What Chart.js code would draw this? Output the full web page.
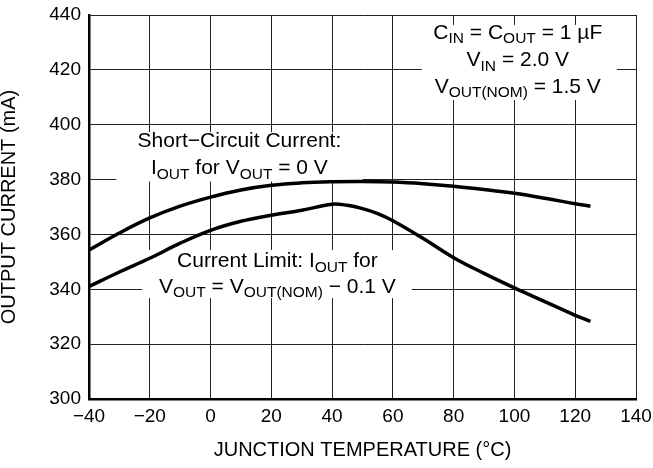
<!DOCTYPE html>
<html>
<head>
<meta charset="utf-8">
<script src="https://cdn.jsdelivr.net/npm/chart.js@4.4.1/dist/chart.umd.min.js"></script>
<style>
  html, body { margin: 0; padding: 0; background: #fff; }
</style>
</head>
<body>
<canvas id="chart" width="653" height="468"></canvas>
<script>
// data
const scTemps = [-40, -30, -20, -10, 0, 10, 20, 30, 40, 50, 60, 70, 80, 90, 100, 110, 120, 125];
const shortCircuit = [354.3, 360.5, 366, 370.3, 373.6, 376.2, 377.9, 378.8, 379.2, 379.3, 379.1, 378.5, 377.6, 376.4, 375, 373.2, 371.2, 370.3];

const limTemps = [-40, -30, -20, -10, 0, 10, 20, 30, 40, 45, 50, 55, 60, 70, 80, 90, 100, 110, 120, 125];
const currentLimit = [341, 346.3, 351.3, 356.8, 361.5, 364.8, 367, 368.8, 371, 370.6, 369.4, 367.6, 365, 358.5, 351.5, 345.8, 340.5, 335.5, 330.5, 328.3];

const xTicks = [-40, -20, 0, 20, 40, 60, 80, 100, 120, 140];
const yTicks = [300, 320, 340, 360, 380, 400, 420, 440];

const xTitle = "JUNCTION TEMPERATURE (\u00B0C)";
const yTitle = "OUTPUT CURRENT (mA)";

// annotation text, [text, isSubscript]
const notes = [
  {
    box: [-31, 397.3, 50, 379.3], cx: 9.5,
    lines: [
      { y: 391.9, parts: [["Short\u2212Circuit Current:"]] },
      { y: 382.0, parts: [["I"], ["OUT", 1], [" for V"], ["OUT", 1], [" = 0 V"]] }
    ]
  },
  {
    box: [69.5, 436.4, 133.7, 409], cx: 101.1,
    lines: [
      { y: 431.3, parts: [["C"], ["IN", 1], [" = C"], ["OUT", 1], [" = 1 \u00B5F"]] },
      { y: 421.4, parts: [["V"], ["IN", 1], [" = 2.0 V"]] },
      { y: 411.6, parts: [["V"], ["OUT(NOM)", 1], [" = 1.5 V"]] }
    ]
  },
  {
    box: [-22.5, 354.3, 66.2, 336.8], cx: 22,
    lines: [
      { y: 348.1, parts: [["Current Limit: I"], ["OUT", 1], [" for"]] },
      { y: 338.7, parts: [["V"], ["OUT", 1], [" = V"], ["OUT(NOM)", 1], [" \u2212 0.1 V"]] }
    ]
  }
];

const FONT = "'Liberation Sans', Arial, Helvetica, sans-serif";

const notePlugin = {
  id: "notes",
  beforeDatasetsDraw(chart) {
    const ctx = chart.ctx;
    const xs = chart.scales.x, ys = chart.scales.y;
    ctx.save();
    notes.forEach(n => {
      const x1 = xs.getPixelForValue(n.box[0]), y1 = ys.getPixelForValue(n.box[1]);
      const x2 = xs.getPixelForValue(n.box[2]), y2 = ys.getPixelForValue(n.box[3]);
      ctx.fillStyle = "#fff";
      ctx.fillRect(x1, y1, x2 - x1, y2 - y1);
      const cx = xs.getPixelForValue(n.cx);
      n.lines.forEach(line => {
        const by = ys.getPixelForValue(line.y);
        let total = 0;
        line.parts.forEach(p => {
          ctx.font = (p[1] ? "15.5px " : "21px ") + FONT;
          total += ctx.measureText(p[0]).width;
        });
        let x = cx - total / 2;
        ctx.fillStyle = "#000";
        ctx.textBaseline = "alphabetic";
        ctx.textAlign = "left";
        line.parts.forEach(p => {
          ctx.font = (p[1] ? "15.5px " : "21px ") + FONT;
          ctx.fillText(p[0], x, by + (p[1] ? 4.5 : 0));
          x += ctx.measureText(p[0]).width;
        });
      });
    });
    ctx.restore();
  }
};

const toPoints = (xsArr, ysArr) => xsArr.map((x, i) => ({ x, y: ysArr[i] }));

new Chart(document.getElementById("chart").getContext("2d"), {
  type: "scatter",
  data: {
    datasets: [
      {
        data: toPoints(scTemps, shortCircuit),
        showLine: true, borderColor: "#000", borderWidth: 3.5,
        pointRadius: 0, tension: 0.4
      },
      {
        data: toPoints(limTemps, currentLimit),
        showLine: true, borderColor: "#000", borderWidth: 3.5,
        pointRadius: 0, tension: 0.4
      }
    ]
  },
  options: {
    responsive: false,
    animation: false,
    layout: { padding: { top: 15, right: 17, left: 0, bottom: 0 } },
    plugins: { legend: { display: false }, tooltip: { enabled: false } },
    scales: {
      x: {
        type: "linear", min: -40, max: 140,
        afterBuildTicks: s => { s.ticks = xTicks.map(v => ({ value: v })); },
        afterFit: s => { s.height = 69; s.paddingLeft = 0; s.paddingRight = 0; },
        grid: { color: "#222", lineWidth: 1, drawTicks: false },
        border: { color: "#000", width: 2.5 },
        ticks: {
          color: "#000", padding: 6, maxRotation: 0,
          font: { family: FONT, size: 19 },
          callback: v => String(v).replace("-", "\u2212")
        },
        title: { display: true, text: xTitle, color: "#000", font: { family: FONT, size: 20 }, padding: { top: 10, bottom: 6 } }
      },
      y: {
        type: "linear", min: 300, max: 440,
        afterBuildTicks: s => { s.ticks = yTicks.map(v => ({ value: v })); },
        afterFit: s => { s.width = 89; s.paddingTop = 0; s.paddingBottom = 0; },
        grid: { color: "#222", lineWidth: 1, drawTicks: false },
        border: { color: "#000", width: 2.5 },
        ticks: { color: "#000", padding: 8, font: { family: FONT, size: 19 } },
        title: { display: true, text: yTitle, color: "#000", font: { family: FONT, size: 20, lineHeight: 0.95 }, padding: { top: 0, bottom: 0 } }
      }
    }
  },
  plugins: [notePlugin]
});
</script>
</body>
</html>
